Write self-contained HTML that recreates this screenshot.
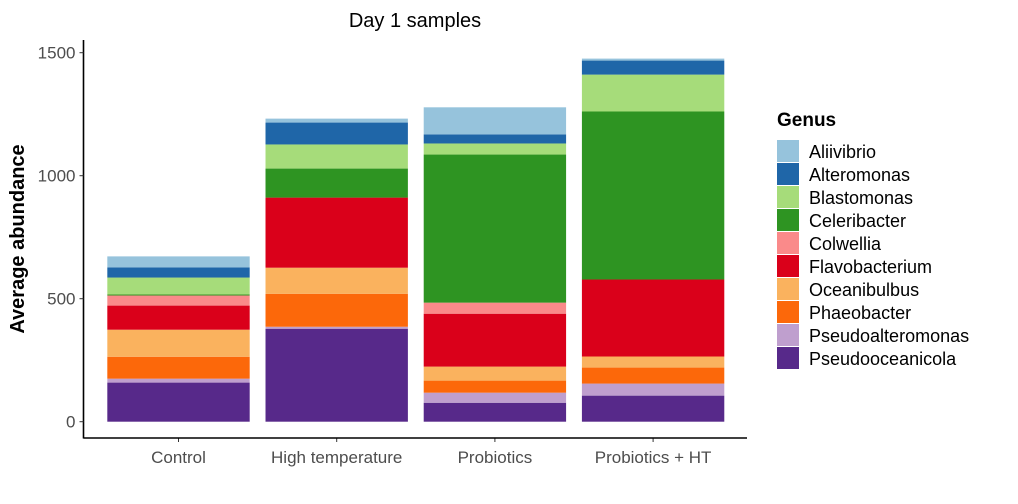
<!DOCTYPE html>
<html><head><meta charset="utf-8"><style>
body{margin:0;background:#fff}
text{font-family:"Liberation Sans",Arial,sans-serif}
</style></head><body>
<svg id="c" width="1018" height="499" xmlns="http://www.w3.org/2000/svg">
<text x="415" y="27" font-size="20" text-anchor="middle" fill="#000">Day 1 samples</text>
<g id="bars"></g>
<g id="axes"></g>
<g id="legend"></g>
</svg>
<script>
const categories=["Control","High temperature","Probiotics","Probiotics + HT"];
const genera=["Aliivibrio","Alteromonas","Blastomonas","Celeribacter","Colwellia","Flavobacterium","Oceanibulbus","Phaeobacter","Pseudoalteromonas","Pseudooceanicola"];
const colors=["#96c3dc","#1f66a8","#a6dc7a","#2e9422","#fa8a8a","#da001a","#fab25e","#fc680a","#bf9fce","#57298a"];
const Aliivibrio=[45,16,110,8];
const Alteromonas=[41,89,37,57];
const Blastomonas=[69,98,45,150];
const Celeribacter=[4,118,602,683];
const Colwellia=[41,0,45,0];
const Flavobacterium=[98,285,215,313];
const Oceanibulbus=[110,106,57,45];
const Phaeobacter=[89,134,49,65];
const Pseudoalteromonas=[16,8,41,49];
const Pseudooceanicola=[159,378,77,106];
const yTicks=[0,500,1000,1500];
const series=[Aliivibrio,Alteromonas,Blastomonas,Celeribacter,Colwellia,Flavobacterium,Oceanibulbus,Phaeobacter,Pseudoalteromonas,Pseudooceanicola];
const NS="http://www.w3.org/2000/svg";
const x0=83.5,x1=747,y0=421.7,ppu=(421.7-52.7)/1500;
const band=158.2;
function xc(i){return 178.5+band*i;}
function y(v){return y0-v*ppu;}
function mk(tag,attrs,parent){const e=document.createElementNS(NS,tag);for(const k in attrs)e.setAttribute(k,attrs[k]);parent.appendChild(e);return e;}
const bars=document.getElementById('bars'),axes=document.getElementById('axes'),leg=document.getElementById('legend');
const bw=band*0.9;
categories.forEach((c,i)=>{
  let acc=0;
  for(let s=series.length-1;s>=0;s--){
    const v=series[s][i];
    const r=mk('rect',{x:xc(i)-bw/2,y:y(acc+v),width:bw,height:v*ppu,fill:colors[s]},bars);
    
    
    acc+=v;
  }
  const t=mk('text',{x:xc(i),y:463,'font-size':17,'text-anchor':'middle',fill:'#4d4d4d'},axes);
  t.textContent=c;
  
  
  mk('line',{x1:xc(i),x2:xc(i),y1:438,y2:442,stroke:'#333','stroke-width':1},axes);
});
mk('line',{x1:x0,x2:x0,y1:40,y2:438.5,stroke:'#000','stroke-width':1.6},axes);
mk('line',{x1:x0,x2:x1,y1:438,y2:438,stroke:'#000','stroke-width':1.6},axes);
yTicks.forEach(v=>{
  mk('line',{x1:x0-4,x2:x0,y1:y(v),y2:y(v),stroke:'#333','stroke-width':1},axes);
  const t=mk('text',{x:x0-8,y:y(v)+6,'font-size':17,'text-anchor':'end',fill:'#4d4d4d'},axes);
  t.textContent=v;
  
  
});
const yt=mk('text',{x:0,y:0,'font-size':20,'font-weight':'bold','text-anchor':'middle',transform:'translate(24,239) rotate(-90)'},axes);
yt.textContent='Average abundance';


const lt=mk('text',{x:777,y:126,'font-size':19,'font-weight':'bold'},leg);
lt.textContent='Genus';


genera.forEach((g,i)=>{
  const yy=140+i*23;
  const r=mk('rect',{x:777,y:yy,width:22,height:22,fill:colors[i]},leg);
  
  
  const t=mk('text',{x:809,y:yy+18,'font-size':18},leg);
  t.textContent=g;
  
  
});
</script>
</body></html>
